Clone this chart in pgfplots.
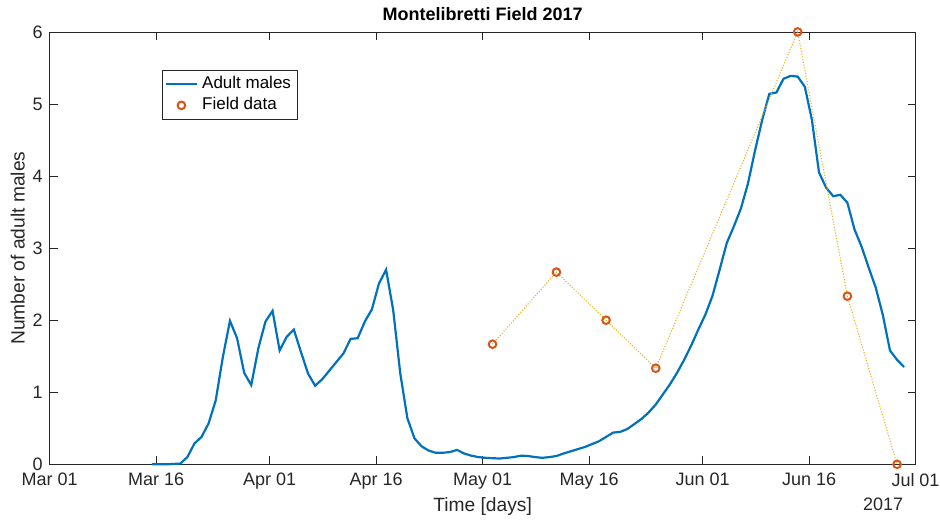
\documentclass[border=0pt]{standalone}
\usepackage{pgfplots}
\pgfplotsset{compat=1.18}
\usepackage{fontspec}
\setmainfont{Liberation Sans}

\definecolor{mblue}{rgb}{0,0.447,0.741}
\definecolor{morange}{rgb}{0.85,0.325,0.098}
\definecolor{myellow}{rgb}{0.929,0.694,0.125}
\definecolor{axgray}{rgb}{0.15,0.15,0.15}

\pgfplotsset{
  linelegend/.style={legend image code/.code={\draw[##1] (0cm,0cm) -- (0.55cm,0cm);}},
  marklegend/.style={legend image code/.code={\draw[##1] plot coordinates {(0.275cm,0cm)};}},
}

% simulated adult males, days since Mar 01
\pgfplotstableread{
day   val
14.4  0
15.4  0
16.4  0
17.4  0.005
18.4  0.01
19.4  0.10
20.4  0.29
21.4  0.38
22.4  0.57
23.4  0.89
24.4  1.49
25.4  1.99
26.4  1.75
27.4  1.27
28.4  1.10
29.4  1.61
30.4  1.98
31.4  2.13
32.4  1.58
33.4  1.77
34.4  1.87
35.4  1.56
36.4  1.26
37.4  1.09
38.4  1.18
39.4  1.30
40.4  1.42
41.4  1.54
42.4  1.74
43.4  1.75
44.4  1.98
45.4  2.15
46.4  2.51
47.4  2.70
48.4  2.14
49.4  1.26
50.4  0.64
51.4  0.36
52.4  0.25
53.4  0.19
54.4  0.16
55.4  0.16
56.4  0.17
57.4  0.20
58.4  0.15
59.4  0.12
60.4  0.10
61.4  0.09
62.4  0.085
63.4  0.08
64.4  0.09
65.4  0.10
66.4  0.12
67.4  0.115
68.4  0.10
69.4  0.09
70.4  0.10
71.4  0.115
72.4  0.15
73.4  0.18
74.4  0.21
75.4  0.24
76.4  0.28
77.4  0.32
78.4  0.38
79.4  0.44
80.4  0.45
81.4  0.49
82.4  0.56
83.4  0.63
84.4  0.72
85.4  0.83
86.4  0.97
87.4  1.11
88.4  1.27
89.4  1.45
90.4  1.65
91.4  1.87
92.4  2.08
93.4  2.34
94.4  2.70
95.4  3.07
96.4  3.30
97.4  3.55
98.4  3.90
99.4  4.36
100.4 4.78
101.4 5.14
102.4 5.16
103.4 5.35
104.4 5.39
105.4 5.38
106.4 5.24
107.4 4.78
108.4 4.05
109.4 3.84
110.4 3.72
111.4 3.74
112.4 3.63
113.4 3.26
114.4 3.02
115.4 2.73
116.4 2.45
117.4 2.07
118.4 1.58
119.4 1.45
120.4 1.35
}\males

% field observations
\pgfplotstableread{
day   val
62.4  1.6667
71.4  2.6667
78.4  2.0
85.4  1.3333
105.4 6.0
112.4 2.3333
119.4 0.0
}\field

\begin{document}
\begin{tikzpicture}
\begin{axis}[
  scale only axis,
  width=432.9pt, height=216.2pt,
  xmin=0, xmax=122, ymin=0, ymax=6,
  clip=false,
  axis line style={axgray, line width=0.4pt},
  tick style={axgray, line width=0.4pt},
  tick align=inside,
  major tick length=4pt,
  xtick={0,15,31,46,61,76,92,107,122},
  xticklabels={Mar 01,Mar 16,Apr 01,Apr 16,May 01,May 16,Jun 01,Jun 16,Jul 01},
  ytick={0,1,2,3,4,5,6},
  /pgf/number format/assume math mode=true,
  ticklabel style={font=\fontsize{9pt}{10pt}\selectfont, text=axgray},
  xticklabel style={yshift=-1pt},
  label style={font=\fontsize{9.6pt}{11pt}\selectfont, text=axgray},
  xlabel={Time [days]},
  ylabel={Number of adult males},
  xlabel style={yshift=3pt},
  ylabel style={yshift=-3pt},
  title={\textbf{Montelibretti Field 2017}},
  title style={font=\fontsize{9pt}{10pt}\selectfont, yshift=-4pt},
  legend style={at={(0.13,0.912)}, anchor=north west, draw=axgray,
    line width=0.4pt, font=\fontsize{8.5pt}{10pt}\selectfont,
    inner sep=1pt, row sep=-1pt, cells={anchor=west}},
  legend cell align=left,
]
\addplot[mblue, line width=1.1pt, linelegend] table[x=day, y=val] {\males};
\addlegendentry{Adult males}
\addplot[myellow, line width=0.55pt, dash pattern=on 0.55pt off 0.85pt, forget plot]
  table[x=day, y=val] {\field};
\addplot[only marks, mark=o, mark size=1.9pt, morange, line width=1pt, marklegend]
  table[x=day, y=val] {\field};
\addlegendentry{Field data}
\node[anchor=north east, font=\fontsize{9pt}{10pt}\selectfont, text=axgray, inner sep=0pt]
  at (rel axis cs:1,0) [xshift=-6pt, yshift=-16.5pt] {2017};
\coordinate (sw) at (rel axis cs:0,0);
\end{axis}
\pgfresetboundingbox
\path[use as bounding box] (sw) ++(-24.85pt,-27.85pt) rectangle ++(470pt,260pt);
\end{tikzpicture}
\end{document}
